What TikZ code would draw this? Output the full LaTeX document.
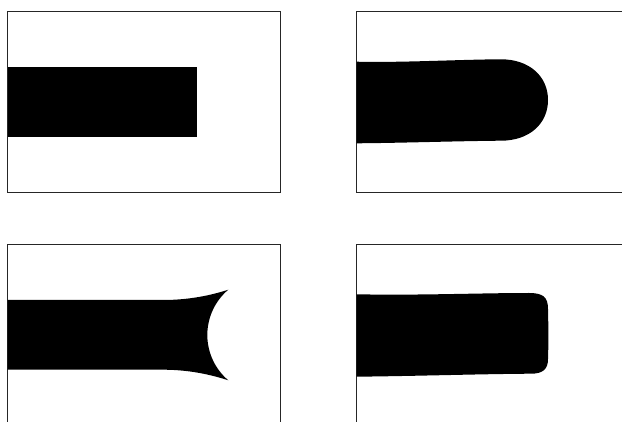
\documentclass[tikz,border=0pt]{standalone}
\usetikzlibrary{calc}
\begin{document}
\begin{tikzpicture}[x=1pt, y=-1pt,
    frame/.style={draw=black!85, line width=0.9pt},
    blob/.style={fill=black, draw=none}
]
\useasboundingbox (0,0) rectangle (622,422);
\clip (0,0) rectangle (622,422);

% frames
\draw[frame] (7.5,11) rectangle (280.5,192);
\draw[frame] (624,11) -- (356.5,11) -- (356.5,192) -- (624,192);
\draw[frame] (7.5,424) -- (7.5,244) -- (280.5,244) -- (280.5,424);
\draw[frame] (624,244) -- (356.5,244) -- (356.5,424);

% top left: plain bar
\fill[blob] (7.5,67) rectangle (197,137);

% top right: rounded tip
\fill[blob] (356.5,61.7) .. controls (400,62.8) and (460,59.5) .. (501,59.3)
  .. controls (529,59.3) and (548,76) .. (548,100)
  .. controls (548,124) and (529,140.7) .. (501,140.7)
  .. controls (460,141) and (400,143) .. (356.5,143.3) -- cycle;

% bottom left: flared tip with hollow end
\fill[blob] (7.5,300) -- (163,300) .. controls (190,300) and (212,295) .. (228.3,289.7)
  .. controls (215,300.9) and (207.3,317.6) .. (207.3,335)
  .. controls (207.3,352.4) and (215,369.1) .. (228.3,380.3)
  .. controls (212,375) and (190,369.7) .. (163,369.7) -- (7.5,369.7) -- cycle;

% bottom right: bar with soft corners
\fill[blob] (356.5,294.3) .. controls (420,295.5) and (480,293) .. (529,293)
  .. controls (543,293) and (548,297) .. (548,309)
  .. controls (548.5,330) and (548.5,345) .. (548,359)
  .. controls (548,369) and (543,373.7) .. (531,373.7)
  .. controls (480,374) and (420,376) .. (356.5,376.7) -- cycle;

\end{tikzpicture}
\end{document}
